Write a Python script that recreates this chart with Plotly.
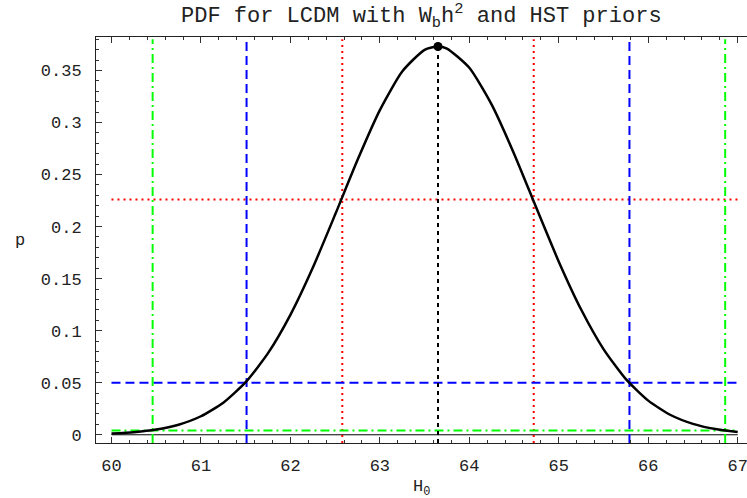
import plotly.graph_objects as go

# ---- data ----
h0 = [60.0, 60.25, 60.5, 60.75, 61.0, 61.25, 61.5, 61.75, 62.0, 62.25, 62.5, 62.75,
      63.0, 63.25, 63.5, 63.65, 63.75, 64.0, 64.25, 64.5, 64.75, 65.0, 65.25, 65.5,
      65.75, 66.0, 66.25, 66.5, 66.75, 67.0]
pdf = [0.0012, 0.0025, 0.0050, 0.0097, 0.0178, 0.0308, 0.0505, 0.0784, 0.1152, 0.1604,
       0.2115, 0.2639, 0.3119, 0.3490, 0.3698, 0.3730, 0.3710, 0.3525, 0.3171, 0.2700,
       0.2178, 0.1663, 0.1203, 0.0823, 0.0534, 0.0328, 0.0190, 0.0105, 0.0055, 0.0027]

peak_h0 = 63.65
peak_p = 0.373

levels = [0.226, 0.05, 0.004]                 # 1, 2, 3 sigma levels
lower_bounds = [62.58, 61.51, 60.46]
upper_bounds = [64.72, 65.79, 66.86]
level_colors = ["#ff0000", "#0000ff", "#00ff00"]
level_dashes = ["2px,4px", "9px,5px", "9px,4px,2px,4px"]

x_ticks = [60, 61, 62, 63, 64, 65, 66, 67]
y_ticks = [0, 0.05, 0.1, 0.15, 0.2, 0.25, 0.3, 0.35]
y_ticklabels = ["0", "0.05", "0.1", "0.15", "0.2", "0.25", "0.3", "0.35"]

x_min, x_max = 60.0, 67.0
y_lo, y_hi = -0.0079, 0.3821
v_top = 0.38

FONT = "Liberation Mono, Courier New, monospace"

fig = go.Figure()

# thin axis line at p = 0
fig.add_trace(go.Scatter(x=[x_min, x_max], y=[0, 0], mode="lines",
                         line=dict(color="black", width=1), hoverinfo="skip"))

for lev, lo, hi, col, dsh in zip(levels, lower_bounds, upper_bounds, level_colors, level_dashes):
    fig.add_trace(go.Scatter(x=[x_min, x_max], y=[lev, lev], mode="lines",
                             line=dict(color=col, width=2, dash=dsh), hoverinfo="skip"))
    for xv in (lo, hi):
        fig.add_trace(go.Scatter(x=[xv, xv], y=[y_lo, v_top], mode="lines",
                                 line=dict(color=col, width=2, dash=dsh), hoverinfo="skip"))

# black dashed vertical at the peak
fig.add_trace(go.Scatter(x=[peak_h0, peak_h0], y=[y_lo, peak_p], mode="lines",
                         line=dict(color="black", width=2, dash="4px,4px"), hoverinfo="skip"))

# the PDF curve
fig.add_trace(go.Scatter(x=h0, y=pdf, mode="lines", line=dict(color="black", width=2.5,
                         shape="spline", smoothing=0.6), hoverinfo="skip"))

# peak marker
fig.add_trace(go.Scatter(x=[peak_h0], y=[peak_p], mode="markers",
                         marker=dict(color="black", size=9), hoverinfo="skip"))

fig.update_layout(
    width=747, height=498,
    margin=dict(l=96, r=0, t=37, b=55),
    paper_bgcolor="white", plot_bgcolor="white",
    showlegend=False,
    font=dict(family=FONT, color="#222222", size=17),
    xaxis=dict(range=[59.827, 67.104], tickvals=x_ticks, ticktext=[str(v) for v in x_ticks],
               ticks="inside", ticklen=6, tickwidth=1, tickcolor="#333333",
               showline=True, linecolor="#222222", linewidth=1, mirror="ticks",
               showgrid=False, zeroline=False, ticklabelstandoff=7,
               ticklabeloverflow="allow",
               tickfont=dict(family=FONT, size=17, color="#222222"),
               minor=dict(ticks="inside", dtick=0.2, ticklen=3, tickcolor="#333333", showgrid=False)),
    yaxis=dict(range=[y_lo, y_hi], tickvals=y_ticks, ticktext=y_ticklabels,
               ticks="inside", ticklen=6, tickwidth=1, tickcolor="#333333",
               showline=True, linecolor="#222222", linewidth=1, mirror=False,
               showgrid=False, zeroline=False, ticklabelstandoff=10,
               tickfont=dict(family=FONT, size=17, color="#222222"),
               minor=dict(ticks="inside", dtick=0.01, ticklen=3, tickcolor="#333333", showgrid=False)),
    annotations=[
        dict(text="PDF for LCDM with W<sub>b</sub>h<sup>2</sup> and HST priors",
             xref="paper", yref="paper", x=0.5, y=1 + 21 / 406, xanchor="center", yanchor="middle",
             showarrow=False, font=dict(family=FONT, size=22, color="#222222")),
        dict(text="p", xref="paper", yref="paper", x=(20 - 96) / 651, y=0.5,
             xanchor="center", yanchor="middle", showarrow=False,
             font=dict(family=FONT, size=17, color="#222222")),
        dict(text="H<sub>0</sub>", xref="paper", yref="paper", x=0.5, y=(443 - 488) / 406,
             xanchor="center", yanchor="middle", showarrow=False,
             font=dict(family=FONT, size=17, color="#222222")),
    ],
)

fig.write_html("out.html")
